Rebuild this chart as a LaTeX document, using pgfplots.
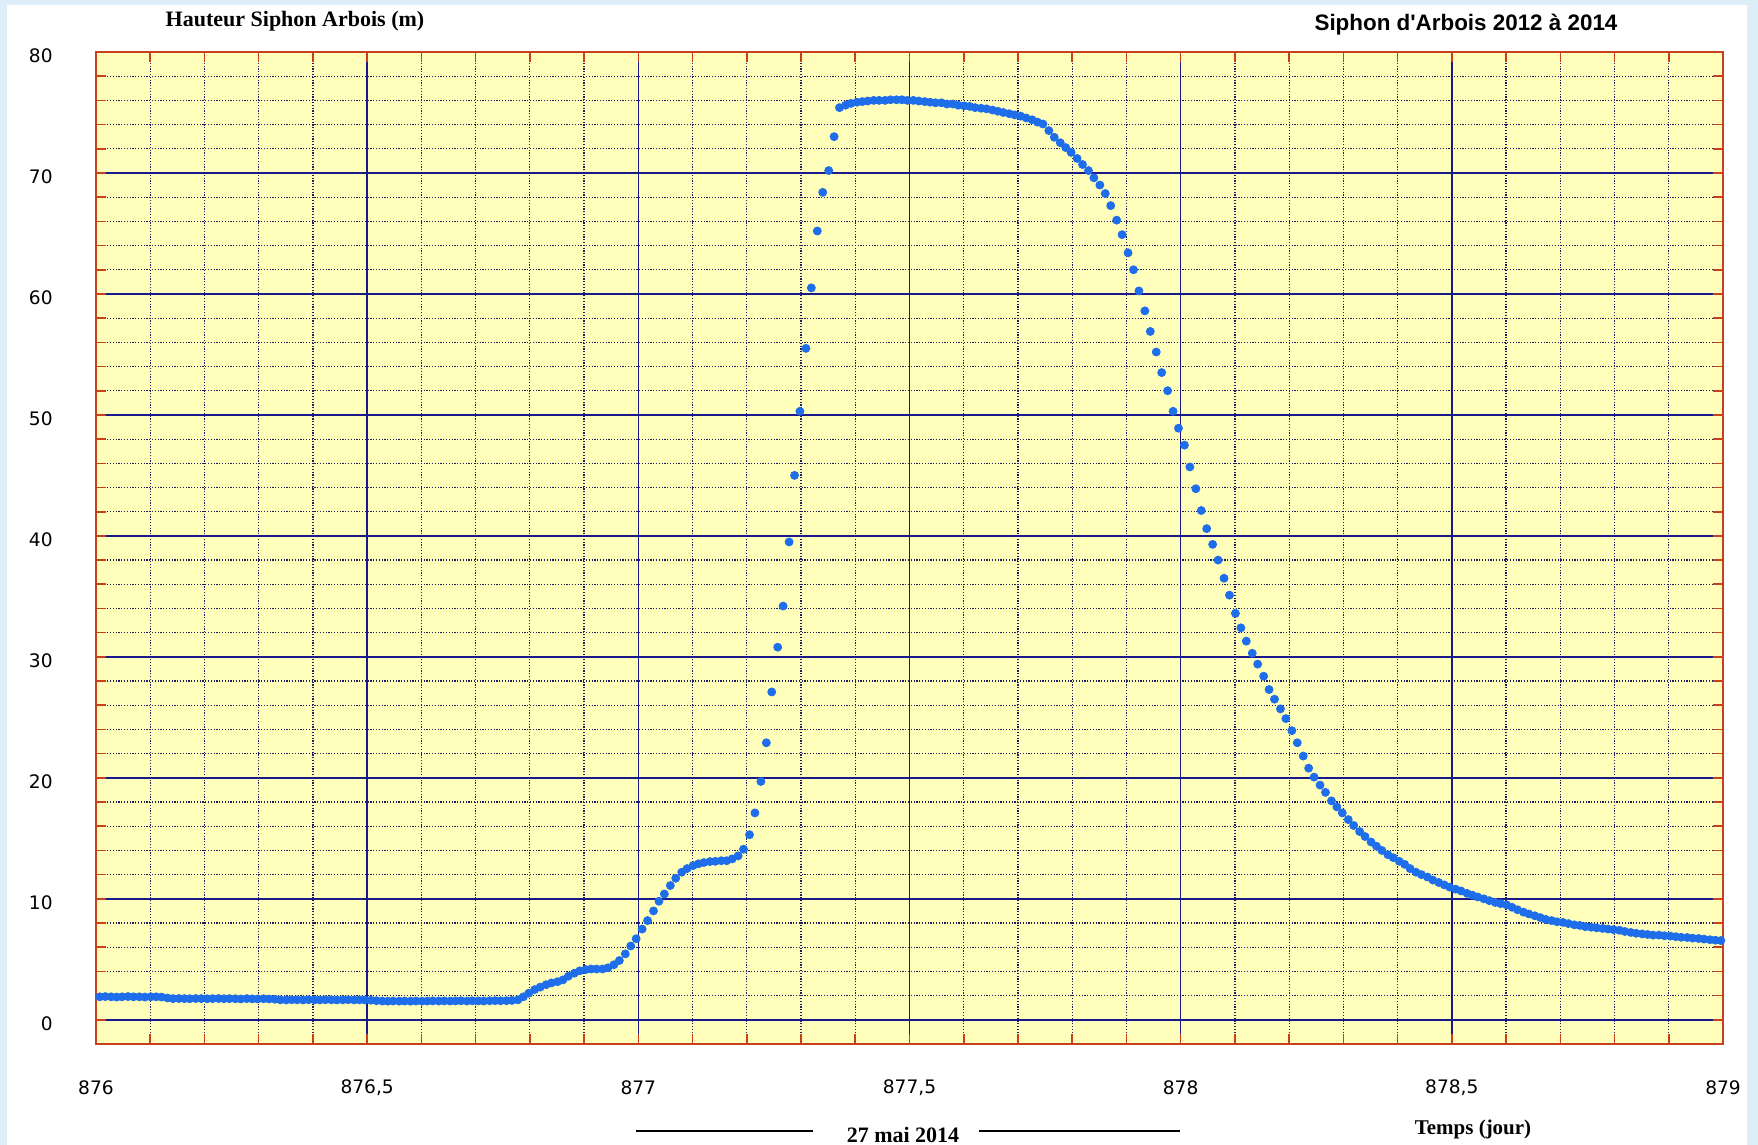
\documentclass[border=0pt]{standalone}
\usepackage{pgfplots}
\pgfplotsset{compat=1.18}
\usepackage{fontspec}
\setmainfont{Liberation Serif}
\newfontfamily\dejavu{DejaVu Sans}
\newfontfamily\arialike{Liberation Sans}

\definecolor{bgblue}{RGB}{222,238,248}
\definecolor{plotbg}{RGB}{255,255,187}
\definecolor{framered}{RGB}{200,64,30}
\definecolor{gridnavy}{RGB}{25,25,140}
\definecolor{dotnavy}{RGB}{30,30,95}
\definecolor{ptblue}{RGB}{30,110,235}

\begin{document}
\begin{tikzpicture}
% canvas: 1 px of the reference = 0.5pt, axis box lower left at (0,0)
\useasboundingbox (-48pt,-50.5pt) rectangle (831pt,522pt);
\fill[white] (-48pt,-50.5pt) rectangle (831pt,522pt);
\fill[bgblue] (-48pt,-50.5pt) rectangle (-44.5pt,522pt);
\fill[bgblue] (-48pt,519.5pt) rectangle (831pt,522pt);
\fill[bgblue] (825.5pt,-50.5pt) rectangle (831pt,522pt);

\begin{axis}[
    scale only axis,
    width=813.5pt, height=496pt,
    xmin=876, xmax=879,
    ymin=-2, ymax=80,
    xtick={876,876.5,877,877.5,878,878.5,879},
    xticklabels={876,{876,5},877,{877,5},878,{878,5},879},
    ytick={0,10,20,30,40,50,60,70,80},
    yticklabels={0,10,20,30,40,50,60,70,80},
    minor x tick num=4,
    minor y tick num=4,
    grid=both,
    major grid style={gridnavy, line width=0.8pt},
    minor grid style={dotnavy, line width=0.6pt, dash pattern=on 0.6pt off 0.8pt},
    axis line style={framered, line width=0.8pt},
    tick style={framered, line width=0.8pt},
    major tick length=5pt,
    minor tick length=5pt,
    tick align=inside,
    axis background/.style={fill=plotbg},
    xticklabel style={font=\dejavu\fontsize{9.3}{11}\selectfont, anchor=center, inner sep=0pt, yshift=-22pt},
    yticklabel style={font=\dejavu\fontsize{9.3}{11}\selectfont, anchor=east, inner sep=0pt, xshift=-21.5pt, yshift=-2pt},
]
\addplot[ptblue, only marks, mark=*, mark size=2pt]
coordinates {
(876.007,1.90) (876.017,1.92) (876.028,1.90) (876.038,1.88) (876.048,1.90) (876.059,1.92) (876.069,1.90) (876.080,1.90) (876.090,1.88) (876.101,1.90) (876.111,1.90) (876.121,1.88)
(876.132,1.80) (876.142,1.75) (876.153,1.76) (876.163,1.75) (876.173,1.74) (876.184,1.76) (876.194,1.75) (876.205,1.74) (876.215,1.75) (876.226,1.76) (876.236,1.74) (876.246,1.75)
(876.257,1.74) (876.267,1.72) (876.278,1.75) (876.288,1.73) (876.298,1.72) (876.309,1.74) (876.319,1.72) (876.330,1.70) (876.340,1.65) (876.351,1.64) (876.361,1.66) (876.371,1.65)
(876.382,1.64) (876.392,1.66) (876.403,1.65) (876.413,1.64) (876.423,1.66) (876.434,1.65) (876.444,1.64) (876.455,1.65) (876.465,1.66) (876.476,1.64) (876.486,1.65) (876.496,1.64)
(876.507,1.62) (876.517,1.58) (876.528,1.55) (876.538,1.54) (876.548,1.55) (876.559,1.54) (876.569,1.55) (876.580,1.54) (876.590,1.55) (876.601,1.54) (876.611,1.55) (876.621,1.56)
(876.632,1.55) (876.642,1.56) (876.653,1.55) (876.663,1.56) (876.673,1.57) (876.684,1.55) (876.694,1.57) (876.705,1.56) (876.715,1.55) (876.726,1.57) (876.736,1.58) (876.746,1.57)
(876.757,1.58) (876.767,1.60) (876.778,1.65) (876.788,1.90) (876.798,2.20) (876.809,2.50) (876.819,2.70) (876.830,2.90) (876.840,3.05) (876.851,3.15) (876.861,3.30) (876.871,3.60)
(876.882,3.85) (876.892,4.05) (876.903,4.15) (876.913,4.20) (876.923,4.20) (876.934,4.20) (876.944,4.30) (876.955,4.55) (876.965,4.90) (876.976,5.45) (876.986,6.10) (876.996,6.70)
(877.007,7.50) (877.017,8.20) (877.028,9.00) (877.038,9.80) (877.048,10.40) (877.059,11.10) (877.069,11.70) (877.080,12.20) (877.090,12.50) (877.101,12.75) (877.111,12.90) (877.121,13.00)
(877.132,13.08) (877.142,13.10) (877.153,13.15) (877.163,13.15) (877.173,13.30) (877.184,13.55) (877.194,14.10) (877.205,15.30) (877.215,17.10) (877.226,19.70) (877.236,22.90) (877.246,27.10)
(877.257,30.80) (877.267,34.20) (877.278,39.50) (877.288,45.00) (877.298,50.30) (877.309,55.50) (877.319,60.50) (877.330,65.20) (877.340,68.40) (877.351,70.20) (877.361,73.00) (877.371,75.40)
(877.382,75.60) (877.392,75.75) (877.403,75.85) (877.413,75.90) (877.423,75.95) (877.434,76.00) (877.444,76.00) (877.455,76.00) (877.465,76.05) (877.476,76.05) (877.486,76.05) (877.496,76.00)
(877.507,76.00) (877.517,75.95) (877.528,75.90) (877.538,75.85) (877.548,75.80) (877.559,75.80) (877.569,75.70) (877.580,75.70) (877.590,75.60) (877.601,75.55) (877.611,75.50) (877.621,75.40)
(877.632,75.35) (877.642,75.30) (877.653,75.20) (877.663,75.10) (877.673,75.00) (877.684,74.90) (877.694,74.80) (877.705,74.70) (877.715,74.55) (877.726,74.40) (877.736,74.20) (877.746,74.05)
(877.757,73.50) (877.767,72.95) (877.778,72.50) (877.788,72.10) (877.798,71.70) (877.809,71.20) (877.819,70.70) (877.830,70.20) (877.840,69.60) (877.851,69.00) (877.861,68.30) (877.871,67.30)
(877.882,66.10) (877.892,64.90) (877.903,63.40) (877.913,62.00) (877.923,60.25) (877.934,58.60) (877.944,56.90) (877.955,55.20) (877.965,53.50) (877.976,52.00) (877.986,50.30) (877.996,48.90)
(878.007,47.50) (878.017,45.70) (878.028,43.90) (878.038,42.10) (878.048,40.60) (878.059,39.30) (878.069,38.00) (878.080,36.50) (878.090,35.10) (878.101,33.60) (878.111,32.40) (878.121,31.30)
(878.132,30.30) (878.142,29.40) (878.153,28.40) (878.163,27.30) (878.173,26.50) (878.184,25.70) (878.194,24.90) (878.205,23.90) (878.215,22.90) (878.226,21.80) (878.236,20.80) (878.246,20.06)
(878.257,19.40) (878.267,18.80) (878.278,18.10) (878.288,17.60) (878.298,17.10) (878.309,16.55) (878.319,16.06) (878.330,15.56) (878.340,15.15) (878.351,14.70) (878.361,14.35) (878.371,14.00)
(878.382,13.65) (878.392,13.40) (878.403,13.10) (878.413,12.85) (878.423,12.50) (878.434,12.20) (878.444,12.00) (878.455,11.80) (878.465,11.55) (878.476,11.35) (878.486,11.15) (878.496,10.97)
(878.507,10.80) (878.517,10.65) (878.528,10.45) (878.538,10.30) (878.548,10.15) (878.559,10.00) (878.569,9.85) (878.580,9.70) (878.590,9.60) (878.601,9.50) (878.611,9.30) (878.621,9.10)
(878.632,8.90) (878.642,8.75) (878.653,8.60) (878.663,8.45) (878.673,8.30) (878.684,8.20) (878.694,8.10) (878.705,8.05) (878.715,7.95) (878.726,7.85) (878.736,7.80) (878.746,7.70)
(878.757,7.65) (878.767,7.60) (878.778,7.55) (878.788,7.50) (878.798,7.45) (878.809,7.40) (878.819,7.30) (878.830,7.22) (878.840,7.15) (878.851,7.10) (878.861,7.05) (878.871,7.00)
(878.882,7.00) (878.892,6.95) (878.903,6.92) (878.913,6.87) (878.923,6.82) (878.934,6.80) (878.944,6.75) (878.955,6.72) (878.965,6.67) (878.976,6.62) (878.986,6.58) (878.996,6.55)
};
\end{axis}

\node[font=\bfseries\fontsize{11}{13}\selectfont] at (99.5pt,511.5pt) {Hauteur Siphon Arbois (m)};
\node[font=\arialike\bfseries\fontsize{11.2}{13}\selectfont] at (685pt,509.5pt) {Siphon d\textquotesingle Arbois 2012 à 2014};
\node[font=\bfseries\fontsize{11}{13}\selectfont] at (403.5pt,-45.5pt) {27 mai 2014};
\draw[line width=1.3pt] (270pt,-43.5pt) -- (358.5pt,-43.5pt);
\draw[line width=1.3pt] (441.5pt,-43.5pt) -- (542pt,-43.5pt);
\node[font=\bfseries\fontsize{10.5}{12}\selectfont] at (688.5pt,-42.5pt) {Temps (jour)};
\end{tikzpicture}
\end{document}
